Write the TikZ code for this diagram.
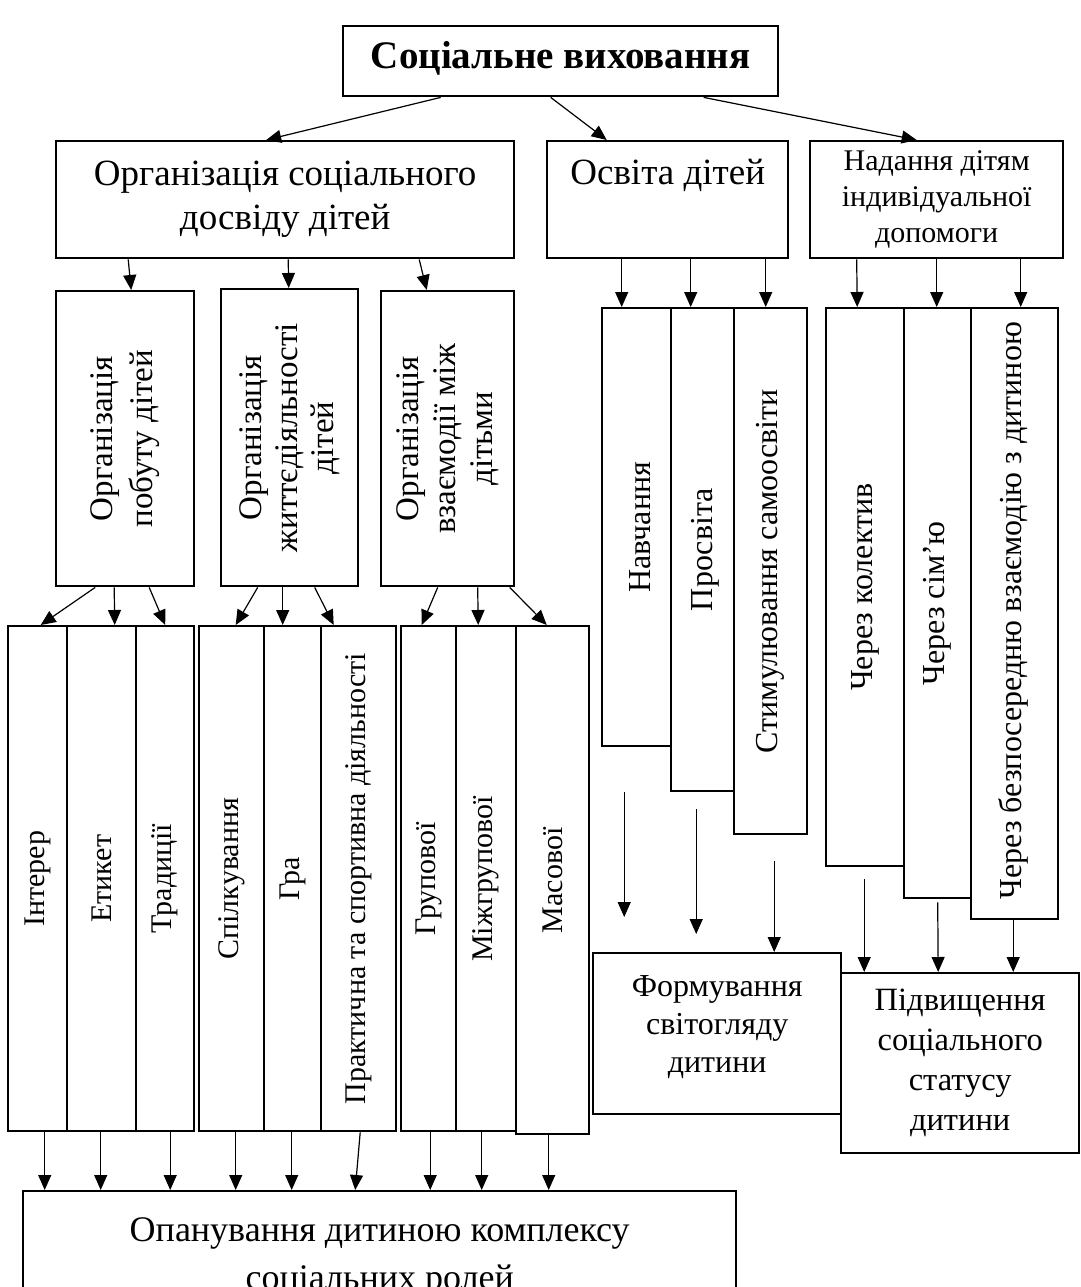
\documentclass[tikz,border=0pt]{standalone}
\usepackage{fontspec}
\setmainfont{Liberation Serif}
\usetikzlibrary{arrows.meta}

\begin{document}
\begin{tikzpicture}[x=1pt, y=-1pt, >={Triangle[length=15pt,width=13pt]},
    box/.style={draw, line width=2.4pt, inner sep=0pt, anchor=north west},
    txt/.style={align=center, inner sep=0pt},
    vtxt/.style={align=center, inner sep=0pt, rotate=90},
    arr/.style={->, line width=1.2pt}]

    \useasboundingbox (0,0) rectangle (1080,1287);

    % Top box
    \node[box, minimum width=435pt, minimum height=70pt] (top) at (342,25) {};
    \node[txt, font=\fontsize{39}{46}\selectfont\bfseries] (topT) at ([yshift=3pt]top.center) {Соціальне виховання};

    % Second level
    \node[box, minimum width=458pt, minimum height=117pt] (org) at (55,140) {};
    \node[txt, font=\fontsize{37}{44}\selectfont] (orgT) at (org.center) {Організація соціального\\досвіду дітей};
    \node[box, minimum width=241pt, minimum height=117pt] (osv) at (546,140) {};
    \node[txt, font=\fontsize{37}{44}\selectfont] (osvT) at ([yshift=24pt]osv.center) {Освіта дітей};
    \node[box, minimum width=253pt, minimum height=117pt] (nad) at (809,140) {};
    \node[txt, font=\fontsize{30}{36}\selectfont] (nadT) at (nad.center) {Надання дітям\\індивідуальної\\допомоги};

    \draw[arr] ([xshift=-120pt]top.south) -- ([xshift=-19pt]org.north);
    \draw[arr] ([xshift=-10pt]top.south) -- ([xshift=-61pt]osv.north);
    \draw[arr] ([xshift=143pt]top.south) -- ([xshift=-20pt]nad.north);

    % Social experience
    \node[box, minimum width=138pt, minimum height=295pt] (ob) at (55,290) {};
    \node[vtxt, font=\fontsize{33}{40}\selectfont] (obT) at (ob.center) {Організація\\побуту дітей};
    \node[box, minimum width=137pt, minimum height=297pt] (zh) at (220,288) {};
    \node[vtxt, font=\fontsize{33}{36}\selectfont] (zhT) at (zh.center) {Організація\\життєдіяльності\\дітей};
    \node[box, minimum width=133pt, minimum height=295pt] (vz) at (380,290) {};
    \node[vtxt, font=\fontsize{33}{37}\selectfont] (vzT) at (vz.center) {Організація\\взаємодії між\\дітьми};

    \draw[arr] ([xshift=-157pt]org.south) -- ([xshift=6pt]ob.north);
    \draw[arr] ([xshift=3pt]org.south) -- ([xshift=-1pt]zh.north);
    \draw[arr] ([xshift=134pt]org.south) -- ([xshift=-21pt]vz.north);

    % Education
    \node[box, minimum width=69pt, minimum height=438pt] (nav) at (601,307) {};
    \node[vtxt, font=\fontsize{32}{38}\selectfont] (navT) at ([xshift=3pt]nav.center) {Навчання};
    \node[box, minimum width=63pt, minimum height=483pt] (pros) at (670,307) {};
    \node[vtxt, font=\fontsize{32}{38}\selectfont] (prosT) at ([xshift=3pt]pros.center) {Просвіта};
    \node[box, minimum width=73pt, minimum height=526pt] (stim) at (733,307) {};
    \node[vtxt, font=\fontsize{32}{38}\selectfont] (stimT) at (stim.center) {Стимулювання самоосвіти};

    \draw[arr] ([xshift=-46pt]osv.south) -- ([xshift=-15pt]nav.north);
    \draw[arr] ([xshift=23pt]osv.south) -- ([xshift=-12pt]pros.north);
    \draw[arr] ([xshift=98pt]osv.south) -- ([xshift=-5pt]stim.north);

    % Individual help
    \node[box, minimum width=78pt, minimum height=558pt] (kol) at (825,307) {};
    \node[vtxt, font=\fontsize{32}{38}\selectfont] (kolT) at (kol.center) {Через колектив};
    \node[box, minimum width=67pt, minimum height=590pt] (sim) at (903,307) {};
    \node[vtxt, font=\fontsize{32}{38}\selectfont] (simT) at (sim.center) {Через сім’ю};
    \node[box, minimum width=87pt, minimum height=611pt] (bez) at (970,307) {};
    \node[vtxt, font=\fontsize{32}{38}\selectfont] (bezT) at ([shift={(-1,-3)}]bez.center) {Через безпосередню взаємодію з дитиною};

    \draw[arr] ([xshift=-80pt]nad.south) -- ([xshift=-8pt]kol.north);
    \draw[arr] (nad.south) -- ([xshift=-1pt]sim.north);
    \draw[arr] ([xshift=84pt]nad.south) -- ([xshift=6pt]bez.north);

    % Forms of organisation
    \node[box, minimum width=59pt, minimum height=505pt] (int) at (7,625) {};
    \node[vtxt, font=\fontsize{30}{36}\selectfont] (intT) at (int.center) {Інтерер};
    \node[box, minimum width=69pt, minimum height=505pt] (et) at (66,625) {};
    \node[vtxt, font=\fontsize{30}{36}\selectfont] (etT) at (et.center) {Етикет};
    \node[box, minimum width=58pt, minimum height=505pt] (trad) at (135,625) {};
    \node[vtxt, font=\fontsize{30}{36}\selectfont] (tradT) at (trad.center) {Традиції};
    \node[box, minimum width=65pt, minimum height=505pt] (spil) at (198,625) {};
    \node[vtxt, font=\fontsize{30}{36}\selectfont] (spilT) at (spil.center) {Спілкування};
    \node[box, minimum width=57pt, minimum height=505pt] (gra) at (263,625) {};
    \node[vtxt, font=\fontsize{30}{36}\selectfont] (graT) at (gra.center) {Гра};
    \node[box, minimum width=75pt, minimum height=505pt] (prak) at (320,625) {};
    \node[vtxt, font=\fontsize{30}{36}\selectfont] (prakT) at (prak.center) {Практична та спортивна діяльності};
    \node[box, minimum width=55pt, minimum height=505pt] (grup) at (400,625) {};
    \node[vtxt, font=\fontsize{30}{36}\selectfont] (grupT) at (grup.center) {Групової};
    \node[box, minimum width=60pt, minimum height=505pt] (mizh) at (455,625) {};
    \node[vtxt, font=\fontsize{30}{36}\selectfont] (mizhT) at (mizh.center) {Міжгрупової};
    \node[box, minimum width=73pt, minimum height=508pt] (mas) at (515,625) {};
    \node[vtxt, font=\fontsize{30}{36}\selectfont] (masT) at (mas.center) {Масової};

    \draw[arr] ([xshift=-30pt]ob.south) -- ([xshift=3pt]int.north);
    \draw[arr] ([xshift=-11pt]ob.south) -- ([xshift=13pt]et.north);
    \draw[arr] ([xshift=24pt]ob.south) -- (trad.north);
    \draw[arr] ([xshift=-32pt]zh.south) -- ([xshift=4pt]spil.north);
    \draw[arr] ([xshift=-7pt]zh.south) -- ([xshift=-10pt]gra.north);
    \draw[arr] ([xshift=25pt]zh.south) -- ([xshift=-25pt]prak.north);
    \draw[arr] ([xshift=-10pt]vz.south) -- ([xshift=-7pt]grup.north);
    \draw[arr] ([xshift=30pt]vz.south) -- ([xshift=-8pt]mizh.north);
    \draw[arr] ([xshift=62pt]vz.south) -- ([xshift=-6pt]mas.north);

    % Results
    \node[box, minimum width=248pt, minimum height=161pt] (form) at (592,952) {};
    \node[txt, font=\fontsize{32}{38}\selectfont] (formT) at ([yshift=7pt]form.center) {Формування\\світогляду\\дитини};
    \node[box, minimum width=238pt, minimum height=180pt] (pidv) at (840,972) {};
    \node[txt, font=\fontsize{32.5}{40}\selectfont] (pidvT) at (pidv.center) {Підвищення\\соціального\\статусу\\дитини};
    \node[box, minimum width=713pt, minimum height=140pt] (fin) at (22,1190) {};
    \node[txt, font=\fontsize{36}{48}\selectfont] (finT) at ([yshift=4pt]fin.center) {Опанування дитиною комплексу\\соціальних ролей};

    \draw[arr] ([shift={(-12.5,45)}]nav.south) -- ([shift={(-93,-35)}]form.north);
    \draw[arr] ([shift={(-6.5,17)}]pros.south) -- ([shift={(-21,-18)}]form.north);
    \draw[arr] ([shift={(3.5,26)}]stim.south) -- ([xshift=57pt]form.north);

    \draw[arr] ([shift={(-1,12)}]kol.south) -- ([xshift=-96pt]pidv.north);
    \draw[arr] ([yshift=-3pt]sim.south) -- ([xshift=-22pt]pidv.north);
    \draw[arr] ([xshift=-1.5pt]bez.south) -- ([xshift=53pt]pidv.north);

    \foreach \n/\dx in {int/7, et/-1, trad/5, spil/4, gra/-1, grup/1.5, mizh/-4.5, mas/-4}
        \draw[arr] ([xshift=\dx pt]\n.south) coordinate (s) -- (s |- fin.north);
    \draw[arr] ([xshift=1.5pt]prak.south) -- ([xshift=-24.5pt]fin.north);

\end{tikzpicture}
\end{document}
